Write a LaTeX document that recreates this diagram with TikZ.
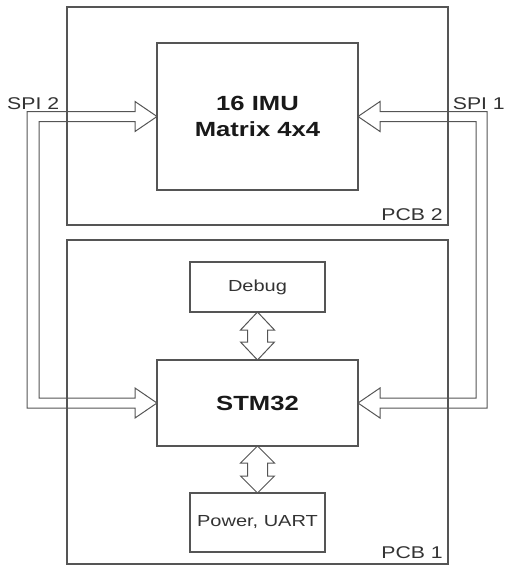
\documentclass[tikz,border=0pt]{standalone}
\usepackage{fontspec}
\newfontfamily\arialw[FakeStretch=1.25]{Liberation Sans}
\usetikzlibrary{calc}
\definecolor{linec}{HTML}{555555}
\definecolor{txtc}{HTML}{333333}
\begin{document}
\begin{tikzpicture}[x=1pt,y=-1pt,
  pcb/.style={draw=linec,line width=1.1pt},
  blk/.style={draw=linec,line width=1.1pt},
  barrow/.style={draw=linec,line width=1pt,line join=miter},
  bigtxt/.style={font=\arialw\bfseries\fontsize{20.5}{26}\selectfont,text=black!90,align=center},
  smtxt/.style={font=\arialw\fontsize{16}{19}\selectfont,text=txtc},
  lbl/.style={font=\arialw\fontsize{17}{20}\selectfont,text=txtc,inner sep=0pt}]
\useasboundingbox (0,0) rectangle (507,568);
% PCB outlines
\draw[pcb] (67,7) rectangle (448,225);
\draw[pcb] (67,240) rectangle (448,564);
\node[lbl,anchor=base east] (pcb2) at (443,220) {PCB 2};
\node[lbl,anchor=base east] (pcb1) at (443,558) {PCB 1};
% blocks
\draw[blk] (157,43) rectangle (358,190);
\node[bigtxt] (imu) at (257.5,116.5) {16 IMU\\Matrix 4x4};
\coordinate (imuW) at (157,116.5);
\coordinate (imuE) at (358,116.5);
\draw[blk] (157,360) rectangle (358,446);
\node[bigtxt] (stm) at (257.5,403) {STM32};
\coordinate (stmW) at (157,403);
\coordinate (stmE) at (358,403);
\coordinate (stmN) at (257.5,360);
\coordinate (stmS) at (257.5,446);
\draw[blk] (190,262) rectangle (325,312);
\node[smtxt] (dbg) at (257.5,287) {Debug};
\coordinate (dbgS) at (257.5,312);
\draw[blk] (190,493) rectangle (325,552);
\node[smtxt] (pwr) at (257.5,522.5) {Power, UART};
% vertical double arrows
\draw[barrow] (dbgS) -- ++(17,18) -- ++(-7,0) -- ++(0,12) -- ++(7,0) -- (stmN)
  -- ++(-17,-18) -- ++(7,0) -- ++(0,-12) -- ++(-7,0) -- cycle;
\draw[barrow] (stmS) -- ++(17,17) -- ++(-7,0) -- ++(0,13) -- ++(7,0) -- ++(-17,17)
  -- ++(-17,-17) -- ++(7,0) -- ++(0,-13) -- ++(-7,0) -- cycle;
% SPI 2 (left)
\draw[barrow] (imuW) -- ++(-22,-15) -- ++(0,10) -| ($(stmW)+(-130,5)$) -- ++(108,0)
  -- ++(0,10) -- (stmW) -- ++(-22,-15) -- ++(0,10) -| ($(imuW)+(-118,5)$)
  -- ++(96,0) -- ++(0,10) -- cycle;
% SPI 1 (right)
\draw[barrow] (imuE) -- ++(22,-15) -- ++(0,10) -| ($(stmE)+(129,5)$) -- ++(-107,0)
  -- ++(0,10) -- (stmE) -- ++(22,-15) -- ++(0,10) -| ($(imuE)+(118,5)$)
  -- ++(-96,0) -- ++(0,10) -- cycle;
\node[lbl,anchor=base west] (spi2) at (7,109) {SPI 2};
\node[lbl,anchor=base east] (spi1) at (505,109) {SPI 1};
\end{tikzpicture}
\end{document}
